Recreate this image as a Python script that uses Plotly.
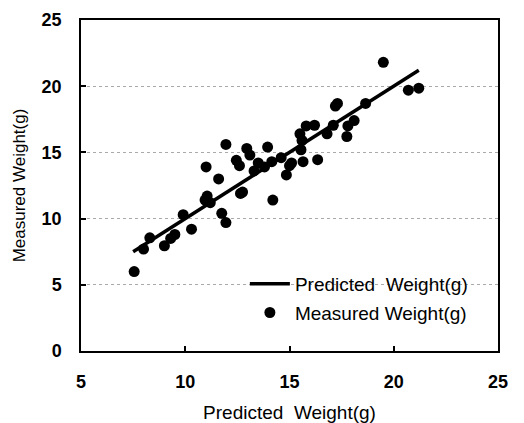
import plotly.graph_objects as go

# Measured points: predicted weight (x) vs measured weight (y)
pred_x = [7.55, 8.0, 8.3, 9.0, 9.3, 9.5, 9.9, 10.3, 10.95, 11.05, 11.2, 11.0, 11.6, 11.75,
          11.95, 11.95, 12.45, 12.6, 12.65, 12.75, 12.95, 13.1, 13.3, 13.5, 13.8, 13.95,
          14.15, 14.2, 14.6, 14.85, 15.0, 15.1, 15.55, 15.6, 15.5, 15.65, 15.8, 16.2,
          16.35, 16.8, 17.1, 17.2, 17.3, 17.75, 17.8, 18.1, 18.65, 19.5, 20.7, 21.2]
meas_y = [6.0, 7.7, 8.55, 7.95, 8.5, 8.8, 10.3, 9.2, 11.4, 11.7, 11.2, 13.9, 13.0, 10.4,
          9.7, 15.6, 14.4, 14.0, 11.9, 12.0, 15.3, 14.8, 13.6, 14.2, 13.9, 15.4,
          14.3, 11.4, 14.6, 13.3, 14.0, 14.2, 15.2, 15.9, 16.4, 14.3, 17.0, 17.05,
          14.45, 16.4, 17.05, 18.5, 18.7, 16.2, 17.0, 17.4, 18.7, 21.8, 19.7, 19.85]

# Predicted line (identity)
line_x = [7.5, 21.2]
line_y = [7.5, 21.2]

x_ticks = [5, 10, 15, 20, 25]
y_ticks = [0, 5, 10, 15, 20, 25]

FONT = "Liberation Sans, Arial, sans-serif"

fig = go.Figure()
fig.add_trace(go.Scatter(
    x=line_x, y=line_y, mode="lines", name="Predicted  Weight(g)", legendgroup="a",
    line=dict(color="black", width=3.5)))
fig.add_trace(go.Scatter(
    x=pred_x, y=meas_y, mode="markers", name="Measured Weight(g)", legendgroup="b",
    marker=dict(color="black", size=11, line=dict(width=0))))

fig.update_layout(
    width=524, height=423,
    margin=dict(l=81, r=26, t=20, b=72),
    paper_bgcolor="white", plot_bgcolor="white",
    font=dict(family=FONT, color="black"),
    showlegend=True,
    legend=dict(x=0.393, y=0.26, xanchor="left", yanchor="top",
                bgcolor="rgba(0,0,0,0)", font=dict(size=19, family=FONT),
                itemwidth=40, tracegroupgap=1),
)
fig.update_xaxes(
    range=[5, 25], tickvals=x_ticks, ticks="inside", ticklen=5, tickwidth=1.5,
    tickcolor="black", showgrid=False, zeroline=False, automargin=False,
    showline=True, linecolor="black", linewidth=1.5, mirror=True,
    ticklabelstandoff=14,
    tickfont=dict(size=18, family=FONT, weight="bold"),
    title=dict(text="Predicted  Weight(g)", font=dict(size=19, family=FONT), standoff=19))
fig.update_yaxes(
    range=[0, 25], tickvals=y_ticks, ticks="inside", ticklen=5, tickwidth=1.5,
    tickcolor="black", showgrid=True, gridcolor="#aaaaaa", griddash="dot", gridwidth=1,
    zeroline=False, automargin=False,
    showline=True, linecolor="black", linewidth=1.5, mirror=True,
    ticklabelstandoff=14,
    tickfont=dict(size=18, family=FONT, weight="bold"),
    title=dict(text="Measured Weight(g)", font=dict(size=17, family=FONT), standoff=12))

fig.write_html("out.html")
